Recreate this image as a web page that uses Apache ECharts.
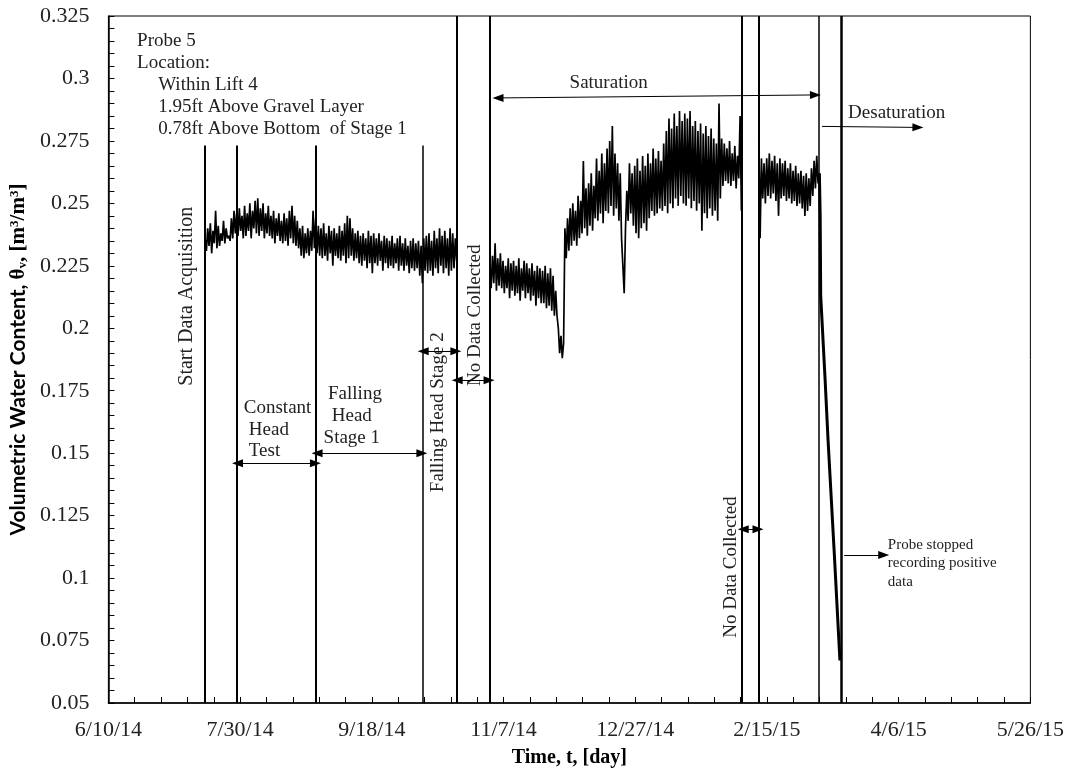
<!DOCTYPE html>
<html>
<head>
<meta charset="utf-8">
<script src="https://cdn.jsdelivr.net/npm/echarts@6/dist/echarts.min.js"></script>
<style>
  html, body { margin: 0; padding: 0; background: #fff; }
  #chart { width: 1067px; height: 776px; }
</style>
</head>
<body>
<div id="chart"></div>
<script>
// days counted from 6/10/14
var xTickLabels = ['6/10/14', '7/30/14', '9/18/14', '11/7/14', '12/27/14', '2/15/15', '4/6/15', '5/26/15'];
var yTicks = [0.05, 0.075, 0.1, 0.125, 0.15, 0.175, 0.2, 0.225, 0.25, 0.275, 0.3, 0.325];

// readings every half day, three logging periods
var seg1Start = 36.7;
var seg1Values = [
  0.236,0.231,0.240,0.233,0.242,0.230,0.239,0.234,0.247,0.232,
  0.241,0.233,0.238,0.235,0.243,0.234,0.240,0.236,0.237,0.235,
  0.244,0.236,0.247,0.238,0.246,0.237,0.248,0.239,0.245,0.236,
  0.249,0.237,0.246,0.239,0.250,0.236,0.247,0.240,0.251,0.238,
  0.252,0.237,0.248,0.239,0.250,0.236,0.246,0.238,0.249,0.237,
  0.245,0.236,0.247,0.234,0.244,0.237,0.246,0.235,0.243,0.234,
  0.246,0.235,0.244,0.233,0.247,0.236,0.249,0.234,0.245,0.233,
  0.243,0.232,0.240,0.229,0.241,0.228,0.238,0.230,0.240,0.229,
  0.239,0.231,0.247,0.232,0.244,0.230,0.241,0.229,0.240,0.228,
  0.242,0.229,0.238,0.227,0.241,0.230,0.239,0.225,0.240,0.229,
  0.238,0.228,0.241,0.227,0.239,0.229,0.242,0.226,0.245,0.228,
  0.244,0.229,0.240,0.227,0.238,0.228,0.239,0.226,0.237,0.225,
  0.238,0.227,0.236,0.224,0.239,0.226,0.237,0.222,0.238,0.226,
  0.236,0.225,0.238,0.227,0.235,0.223,0.237,0.226,0.236,0.224,
  0.235,0.225,0.237,0.224,0.234,0.226,0.236,0.223,0.237,0.225,
  0.234,0.223,0.236,0.225,0.233,0.222,0.235,0.224,0.236,0.223,
  0.234,0.224,0.235,0.221,0.233,0.218,0.236,0.223,0.237,0.222,
  0.238,0.223,0.235,0.221,0.239,0.224,0.236,0.222,0.240,0.225,
  0.237,0.222,0.239,0.224,0.236,0.221,0.240,0.223,0.238,0.224,
  0.236,0.227
];
var seg2Start = 144.8;
var seg2Values = [
  0.226,0.216,0.229,0.218,0.234,0.215,0.228,0.217,0.230,0.216,
  0.227,0.214,0.225,0.216,0.228,0.212,0.226,0.215,0.227,0.213,
  0.225,0.214,0.228,0.211,0.224,0.215,0.227,0.212,0.226,0.214,
  0.224,0.211,0.226,0.213,0.223,0.209,0.225,0.212,0.224,0.210,
  0.223,0.210,0.225,0.208,0.222,0.209,0.224,0.207,0.221,0.205,
  0.215,0.205,0.200,0.190,0.197,0.188,0.194,0.240,0.228,0.244,
  0.231,0.248,0.233,0.250,0.235,0.247,0.233,0.253,0.236,0.251,
  0.238,0.267,0.240,0.256,0.237,0.258,0.241,0.262,0.239,0.257,
  0.244,0.268,0.243,0.263,0.246,0.270,0.242,0.266,0.247,0.272,
  0.246,0.275,0.249,0.281,0.245,0.270,0.248,0.266,0.243,0.262,
  0.236,0.225,0.214,0.240,0.255,0.243,0.266,0.246,0.262,0.241,
  0.265,0.238,0.268,0.236,0.263,0.240,0.269,0.242,0.265,0.239,
  0.270,0.244,0.266,0.247,0.272,0.245,0.268,0.246,0.271,0.248,
  0.267,0.247,0.274,0.249,0.279,0.246,0.284,0.250,0.280,0.248,
  0.286,0.252,0.281,0.249,0.287,0.253,0.283,0.250,0.286,0.249,
  0.284,0.252,0.287,0.248,0.281,0.251,0.283,0.247,0.279,0.250,
  0.282,0.239,0.278,0.246,0.281,0.244,0.277,0.248,0.280,0.245,
  0.276,0.247,0.274,0.243,0.290,0.252,0.276,0.257,0.274,0.259,
  0.272,0.258,0.275,0.257,0.270,0.259,0.273,0.256,0.269,0.260,
  0.285,0.247
];
var seg3Start = 246.9;
var seg3Values = [
  0.277,0.236,0.268,0.252,0.266,0.250,0.268,0.253,0.270,0.252,
  0.267,0.254,0.269,0.251,0.266,0.245,0.268,0.252,0.266,0.253,
  0.267,0.251,0.264,0.252,0.266,0.250,0.263,0.251,0.265,0.249,
  0.262,0.250,0.263,0.248,0.261,0.245,0.262,0.247,0.260,0.249,
  0.264,0.253,0.267,0.256,0.269,0.258,0.262
];
var stepDays = 0.5;
var dropDays = [269.9, 270.2, 270.4, 272, 273.2, 275.5, 277.7];
var dropValues = [0.262, 0.245, 0.213, 0.181, 0.155, 0.111, 0.067];

// test stage boundaries
var eventDays = [36.7, 48.7, 78.8, 119.2, 132.1, 144.8, 240.6, 246.9, 269.8, 278.1];
var eventTops = [0.2732, 0.2732, 0.2732, 0.2732, 0.325, 0.325, 0.325, 0.325, 0.325, 0.325];
var eventWidths = [2, 2, 2, 1.5, 2, 2, 2, 2, 1.5, 2.5];

var serif = '"Liberation Serif", "Times New Roman", serif';
var chart = echarts.init(document.getElementById('chart'));

function buildSegment(start, values) {
  var out = [];
  for (var i = 0; i < values.length; i++) {
    out.push([start + i * stepDays, values[i]]);
  }
  return out;
}

var lineData = buildSegment(seg1Start, seg1Values)
  .concat([[null, null]], buildSegment(seg2Start, seg2Values))
  .concat([[null, null]], buildSegment(seg3Start, seg3Values));

var dropData = dropDays.map(function (d, i) { return [d, dropValues[i]]; });

var eventLines = eventDays.map(function (d, i) {
  return [
    { coord: [d, 0.05], lineStyle: { width: eventWidths[i] } },
    { coord: [d, eventTops[i]] }
  ];
});

function arrow(x1, y1, x2, y2, both) {
  return [
    { coord: [x1, y1], symbol: both ? 'triangle' : 'none' },
    { coord: [x2, y2], symbol: 'triangle' }
  ];
}

var arrows = [
  arrow(49.0, 0.146, 78.6, 0.146, true),
  arrow(79.2, 0.150, 119.0, 0.150, true),
  arrow(119.5, 0.1908, 131.9, 0.1908, true),
  arrow(132.4, 0.1792, 144.5, 0.1792, true),
  arrow(147.9, 0.2922, 268.4, 0.2934, true),
  arrow(270.9, 0.2808, 307.3, 0.2804, false),
  arrow(241.0, 0.1196, 246.6, 0.1196, true),
  arrow(279.3, 0.1092, 294.3, 0.1092, false)
];

var option = {
  animation: false,
  backgroundColor: '#fff',
  grid: { left: 107, right: 36, top: 16, bottom: 73, show: true, borderColor: '#000', borderWidth: 1 },
  xAxis: {
    type: 'value',
    min: 0,
    max: 350,
    interval: 50,
    name: 'Time, t, [day]',
    nameLocation: 'middle',
    nameGap: 45,
    nameTextStyle: { fontFamily: serif, fontWeight: 'bold', fontSize: 20, color: '#000' },
    axisLine: { lineStyle: { color: '#000', width: 1.5 } },
    axisTick: { inside: true, length: 6, lineStyle: { color: '#000' } },
    minorTick: { show: true, splitNumber: 5, length: 6, lineStyle: { color: '#000' } },
    splitLine: { show: false },
    axisLabel: {
      margin: 16,
      fontFamily: serif,
      fontSize: 22,
      color: '#222',
      showMinLabel: true,
      showMaxLabel: true,
      formatter: function (v) { return xTickLabels[Math.round(v / 50)]; }
    }
  },
  yAxis: {
    type: 'value',
    min: yTicks[0],
    max: yTicks[yTicks.length - 1],
    interval: 0.025,
    name: '{a|Volumetric Water Content, }{b|θ}{s|v}{b|, [m}{p|3}{b|/m}{p|3}{b|]}',
    nameLocation: 'middle',
    nameGap: 73,
    nameRotate: 90,
    nameTextStyle: {
      rich: {
        a: { fontFamily: 'Lato, "Open Sans", sans-serif', fontWeight: 'bold', fontSize: 21, color: '#000' },
        b: { fontFamily: serif, fontWeight: 'bold', fontSize: 21, color: '#000' },
        s: { fontFamily: serif, fontWeight: 'bold', fontSize: 13, color: '#000', verticalAlign: 'bottom' },
        p: { fontFamily: serif, fontWeight: 'bold', fontSize: 13, color: '#000', verticalAlign: 'top' }
      }
    },
    axisLine: { lineStyle: { color: '#000', width: 1.5 } },
    axisTick: { inside: true, length: 6, lineStyle: { color: '#000' } },
    minorTick: { show: true, splitNumber: 5, length: 6, lineStyle: { color: '#000' } },
    splitLine: { show: false },
    axisLabel: {
      margin: 19,
      fontFamily: serif,
      fontSize: 22,
      color: '#222',
      formatter: function (v) { return String(+v.toFixed(3)); }
    }
  },
  series: [
    {
      name: 'Probe 5',
      type: 'line',
      data: lineData,
      showSymbol: false,
      connectNulls: false,
      lineStyle: { color: '#000', width: 1.7 },
      markLine: {
        silent: true,
        symbol: 'none',
        label: { show: false },
        lineStyle: { color: '#000', type: 'solid', width: 2 },
        data: eventLines
      }
    },
    {
      name: 'drop',
      type: 'line',
      data: dropData,
      showSymbol: false,
      lineStyle: { color: '#000', width: 3 },
      markLine: {
        silent: true,
        symbolSize: [8, 11],
        label: { show: false },
        lineStyle: { color: '#000', type: 'solid', width: 1 },
        data: arrows
      }
    }
  ]
};
chart.setOption(option);

// text notes, placed in data coordinates
var notes = [
  { t: 'Probe 5', d: 10.9, v: 0.3148, align: 'left' },
  { t: 'Location:', d: 10.9, v: 0.3060, align: 'left' },
  { t: 'Within Lift 4', d: 18.9, v: 0.2972, align: 'left' },
  { t: '1.95ft Above Gravel Layer', d: 18.9, v: 0.2884, align: 'left' },
  { t: '0.78ft Above Bottom  of Stage 1', d: 18.9, v: 0.2796, align: 'left' },
  { t: 'Start Data Acquisition', d: 29.9, v: 0.2128, rot: true, big: true },
  { t: 'Constant', d: 51.4, v: 0.168, align: 'left' },
  { t: 'Head', d: 53.3, v: 0.1592, align: 'left' },
  { t: 'Test', d: 53.3, v: 0.1508, align: 'left' },
  { t: 'Falling', d: 93.6, v: 0.1736 },
  { t: 'Head', d: 92.4, v: 0.1648 },
  { t: 'Stage 1', d: 92.4, v: 0.156 },
  { t: 'Falling Head Stage 2', d: 125.0, v: 0.1664, rot: true },
  { t: 'No Data Collected', d: 139.0, v: 0.2052, rot: true },
  { t: 'Saturation', d: 189.9, v: 0.298 },
  { t: 'Desaturation', d: 280.8, v: 0.286, align: 'left' },
  { t: 'No Data Collected', d: 236.5, v: 0.1044, rot: true },
  { t: 'Probe stopped', d: 295.9, v: 0.1132, align: 'left', small: true },
  { t: 'recording positive', d: 295.9, v: 0.1060, align: 'left', small: true },
  { t: 'data', d: 295.9, v: 0.0984, align: 'left', small: true }
];

var graphics = notes.map(function (n) {
  var p = chart.convertToPixel({ gridIndex: 0 }, [n.d, n.v]);
  var size = n.small ? 15 : (n.big ? 20 : 19);
  return {
    type: 'text',
    x: p[0],
    y: p[1],
    rotation: n.rot ? Math.PI / 2 : 0,
    silent: true,
    style: {
      text: n.t,
      fill: '#222',
      font: size + 'px ' + serif,
      textAlign: n.align || 'center',
      textVerticalAlign: 'middle',
      verticalAlign: 'middle'
    }
  };
});
chart.setOption({ graphic: graphics });

window.onresize = chart.resize;
</script>
</body>
</html>
